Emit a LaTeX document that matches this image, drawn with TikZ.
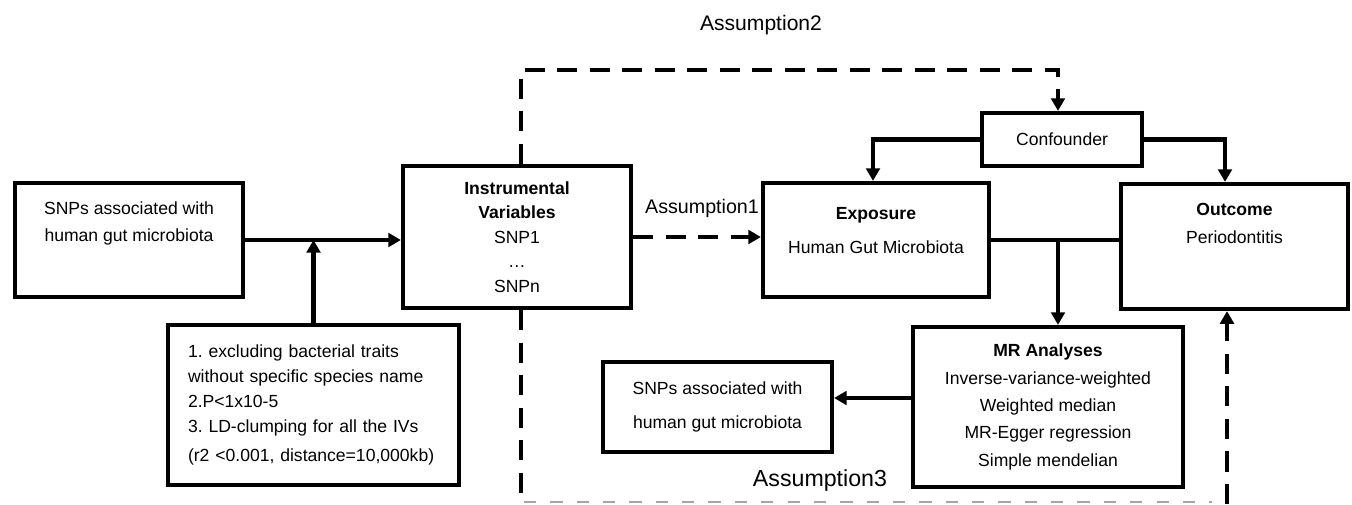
\documentclass[tikz,border=0pt]{standalone}
\usepackage{fontspec}
\setmainfont{Liberation Sans}
\usetikzlibrary{arrows.meta,calc}
\begin{document}
\begin{tikzpicture}[x=0.02cm,y=-0.02cm,
  >={Triangle[width=7.8pt,length=7.2pt]},
  box/.style={draw, line width=2.4pt, rectangle, inner sep=0pt, align=center,
              font=\fontsize{10}{14}\selectfont},
  conn/.style={line width=2.3pt},
  dashline/.style={line width=2.5pt, dash pattern=on 11.5pt off 7pt},
  greydash/.style={line width=1.6pt, draw=black!35, dash pattern=on 7pt off 8pt},
  lbl/.style={inner sep=0pt}]
\useasboundingbox (0,0) rectangle (1352,504);

% boxes
\node[box, minimum width=4.56cm, minimum height=2.28cm,
  label={[name=Atxt, align=center, font=\fontsize{10}{15.3}\selectfont, yshift=9.4pt]center:SNPs associated with\\human gut microbiota}]
  (A) at (129,240) {};
\node[box, minimum width=5.82cm, minimum height=3.2cm, text width=5.02cm, align=left,
  font=\fontsize{10}{14.2}\selectfont]
  (filt) at (313.5,405) {1.\ excluding bacterial traits\\without specific species name\\2.P<1x10-5\\3.\ LD-clumping for all the IVs\\[2.8pt](r2 <0.001, distance=10,000kb)};
\node[box, minimum width=4.56cm, minimum height=2.84cm, font=\fontsize{10}{14}\selectfont]
  (IV) at (517,237) {\textbf{Instrumental}\\\textbf{Variables}\\SNP1\\…\\SNPn};
\node[box, minimum width=3.2cm, minimum height=1.06cm] (conf) at (1062,139.5) {Confounder};
\node[box, minimum width=4.52cm, minimum height=2.28cm,
  label={[name=Etxt, align=center, font=\fontsize{10}{19.8}\selectfont, yshift=5.4pt]center:\textbf{Exposure}\\Human Gut Microbiota}]
  (exp) at (876,240) {};
\node[box, minimum width=4.54cm, minimum height=2.5cm,
  label={[name=Otxt, align=center, font=\fontsize{10}{15.9}\selectfont, yshift=13.3pt]center:\textbf{Outcome}\\Periodontitis}]
  (out) at (1234.5,246.5) {};
\node[box, minimum width=5.4cm, minimum height=3.2cm, font=\fontsize{10}{15.6}\selectfont]
  (mr) at (1048,407) {\textbf{MR Analyses}\\Inverse-variance-weighted\\Weighted median\\MR-Egger regression\\Simple mendelian};
\node[box, minimum width=4.58cm, minimum height=1.8cm, font=\fontsize{10}{19.8}\selectfont]
  (snpR) at (717.5,407) {SNPs associated with\\human gut microbiota};

% assumption labels
\node[lbl, font=\fontsize{12}{14}\selectfont] (a2) at (761,25) {Assumption2};
\node[lbl, font=\fontsize{11.2}{13}\selectfont] (a1) at (702,208) {Assumption1};
\node[lbl, font=\fontsize{13.2}{15}\selectfont] (a3) at (820,480) {Assumption3};

% coordinates
\coordinate (tl) at (521,70);
\coordinate (tr) at (1058,70);
\coordinate (bl) at (521,504);
\coordinate (br) at (1227,504);
\coordinate (g1) at (524,502);
\coordinate (g2) at (1212,502);
\coordinate (j1) at (filt.north |- A.east);
\coordinate (j2) at (1058,240);

% connectors
\draw[conn,->] (A.east) -- (A.east -| IV.west);
\draw[conn,->] (filt.north) -- (j1);
\draw[dashline,->] (IV.north -| tl) -- (tl) -- (tr) -- (tr |- conf.north);
\draw[dashline,->] (IV.east) -- (IV.east -| exp.west);
\draw[conn,->] (conf.west) -| ($(exp.north)+(-3,0)$);
\draw[conn,->] (conf.east) -| ($(out.north)+(-9.5,0)$);
\draw[conn] (exp.east) -- (exp.east -| out.west);
\draw[conn,->] (j2) -- (j2 |- mr.north);
\draw[conn,->] ($(mr.west)+(0,-9)$) -- ($(snpR.east)+(0,-9)$);
\draw[dashline] (IV.south -| bl) -- (bl);
\draw[greydash] (g1) -- (g2);
\draw[dashline,->] (br) -- (br |- out.south);
\end{tikzpicture}
\end{document}
